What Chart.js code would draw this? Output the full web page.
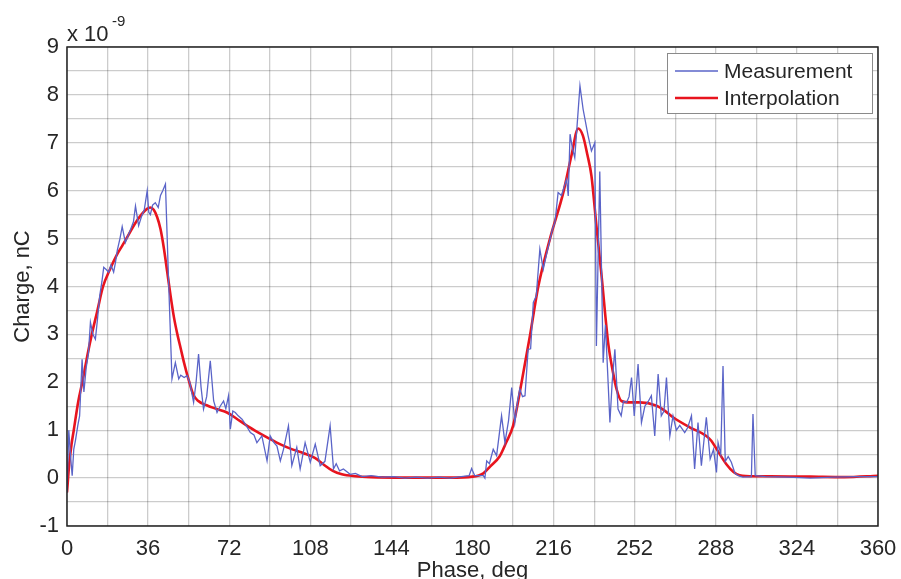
<!DOCTYPE html>
<html>
<head>
<meta charset="utf-8">
<script src="https://cdn.jsdelivr.net/npm/chart.js@4"></script>
<style>
  html, body { margin: 0; padding: 0; background: #fff; }
  #wrap { width: 901px; height: 579px; position: relative; }
</style>
</head>
<body>
<div id="wrap"><canvas id="chart"></canvas></div>
<script>
// --- data (charge in units of 1e-9 C) ---
const measPhase = [0, 0.8, 1.5, 2.3, 3.0, 3.8, 4.8, 5.6, 6.7, 7.5, 8.5, 9.5, 10.4, 11.5, 12.6, 13.5, 14.5, 15.5, 16.3, 17.5,
  18.5, 19.5, 20.7, 21.5, 22.3, 23.5, 24.5, 25.9, 27, 28.3, 29.5, 30.4, 31.8, 33, 34.3, 35.6, 36.3, 37, 38, 39.2,
  40.5, 41.5, 42.5, 43.7, 45.1, 46.6, 48.1, 49.6, 50.5, 52, 53.3, 54.5, 56.2, 57.3, 58.4, 59.5, 60.6, 62, 63.6, 65.1,
  66.6, 68, 69.5, 70.5, 71.7, 72.5, 73.6, 74.7, 76, 77.7, 79.5, 81.4, 83, 84.3, 86.5, 88.8, 90.2, 91.7, 93.2, 94.7,
  96.1, 98.3, 99.8, 102, 103.5, 105.7, 108, 110.2, 112.4, 114.5, 116.8, 118.3, 119.5, 121, 122.7, 125.7, 128, 131, 135, 140,
  145, 150, 155, 160, 165, 170, 175, 178.5, 179.6, 181, 184.8, 185.5, 186.3, 187.5, 189.2, 190.7, 192.9, 194.4, 196, 197.4,
  198.8, 200, 201, 202.2, 203.3, 204.7, 205.8, 207, 208.3, 209.9, 211.4, 213, 214.5, 215.5, 216.6, 218, 219.5, 220.8, 221.8, 222.5,
  223.3, 224.3, 225.4, 227.7, 229.1, 231.3, 232.8, 234.3, 235, 236.5, 238, 239, 240, 241, 242, 243.2, 244.6, 246, 247, 248.4,
  249.5, 250.6, 251.8, 253.5, 255, 256.5, 258, 259.4, 260.9, 262.4, 263.8, 265, 266.1, 267.6, 269, 270.5, 272, 274.2, 275.5, 277.2,
  278.6, 280.1, 281.6, 283.8, 285.5, 287, 288.3, 289, 290.2, 291.2, 292.2, 293.5, 294.9, 296.5, 298, 300, 303.8, 304.5, 305.5, 310,
  320, 330, 340, 350, 360];
const measCharge = [-0.3, 1.0, 0.5, 0.05, 0.6, 0.8, 1.1, 1.3, 2.48, 1.8, 2.3, 2.6, 3.25, 3.0, 2.9, 3.3, 3.8, 4.1, 4.4, 4.35,
  4.3, 4.45, 4.3, 4.5, 4.75, 5.0, 5.25, 4.92, 5.05, 5.2, 5.35, 5.68, 5.27, 5.45, 5.6, 6.0, 5.55, 5.5, 5.7, 5.75,
  5.65, 5.9, 6.0, 6.14, 4.1, 2.07, 2.41, 2.07, 2.15, 2.1, 2.14, 2.0, 1.58, 2.0, 2.59, 1.9, 1.44, 1.7, 2.45, 1.61,
  1.37, 1.5, 1.61, 1.45, 1.72, 1.02, 1.4, 1.37, 1.3, 1.23, 1.1, 0.95, 0.9, 0.74, 0.88, 0.36, 0.88, 0.75, 0.67, 0.36,
  0.6, 1.09, 0.26, 0.64, 0.19, 0.74, 0.33, 0.71, 0.26, 0.35, 1.09, 0.19, 0.3, 0.15, 0.19, 0.08, 0.1, 0.03, 0.05, 0.02,
  0.03, 0.0, 0.02, 0.0, 0.02, 0.0, 0.03, 0.05, 0.2, 0.05, 0.05, 0.0, 0.36, 0.3, 0.6, 0.47, 1.3, 0.74, 1.2, 1.89,
  1.16, 1.6, 1.86, 1.7, 1.72, 2.69, 2.7, 3.67, 3.8, 4.78, 4.36, 4.7, 5.0, 5.2, 5.34, 5.96, 5.9, 6.1, 6.24, 5.89,
  7.18, 6.9, 6.69, 8.19, 7.7, 7.15, 6.83, 7.0, 2.76, 6.4, 2.41, 3.2, 2.2, 1.16, 2.0, 2.69, 1.44, 1.3, 1.6, 1.58,
  1.7, 2.1, 1.3, 2.38, 1.16, 1.5, 1.6, 1.72, 0.88, 2.17, 1.3, 1.4, 2.1, 0.88, 1.3, 1.0, 1.1, 0.95, 1.05, 1.3,
  0.19, 1.16, 0.26, 1.27, 0.4, 0.6, 0.12, 0.74, 0.5, 2.34, 0.35, 0.45, 0.33, 0.1, 0.05, 0.02, 0.03, 1.34, 0.05, 0.03,
  0.02, 0.0, 0.02, 0.03, 0.03];

const fitPhase = [0, 1, 2, 3, 5, 7, 9, 11, 13.5, 16, 19, 22, 24.5, 27, 30, 33, 35.5, 37, 38.5, 40,
  41.5, 43, 44.5, 46, 47.5, 49, 50.5, 52, 54, 56, 58, 62, 66, 71, 75, 80, 85, 90, 95, 100,
  105, 110, 114, 118, 122, 128, 135, 150, 170, 180, 184.8, 188, 192, 195, 198, 201.8, 205.5, 209.2, 214.4, 220.3,
  224, 226.9, 229, 231, 232.8, 235, 237.3, 240.2, 242.4, 244, 246.1, 250, 254.3, 261.7, 265, 269, 276.4, 283.8, 286, 288.3,
  292.7, 296, 298.6, 305, 312, 330, 345, 360];
const fitCharge = [-0.3, 0.3, 0.7, 1.0, 1.6, 2.05, 2.55, 3.0, 3.5, 4.0, 4.35, 4.65, 4.85, 5.05, 5.3, 5.5, 5.62, 5.65, 5.6, 5.45,
  5.2, 4.8, 4.3, 3.8, 3.35, 3.0, 2.7, 2.4, 2.05, 1.75, 1.62, 1.52, 1.45, 1.37, 1.25, 1.09, 0.95, 0.82, 0.7, 0.6,
  0.52, 0.42, 0.28, 0.15, 0.08, 0.04, 0.02, 0.01, 0.01, 0.03, 0.1, 0.25, 0.45, 0.75, 1.09, 2.0, 2.97, 4.0, 5.0, 5.96,
  6.75, 7.3, 7.15, 6.75, 6.31, 5.27, 4.22, 2.83, 2.2, 1.85, 1.61, 1.58, 1.58, 1.51, 1.42, 1.27, 1.06, 0.88, 0.78, 0.61,
  0.29, 0.12, 0.06, 0.04, 0.04, 0.03, 0.02, 0.05];

const seriesNames = ['Measurement', 'Interpolation'];
const seriesColors = ['#5a64c8', '#e8141e'];

const FONT = '"Liberation Sans", Arial, sans-serif';
const TXT = '#262626';

const toXY = (xs, ys) => xs.map((x, i) => ({ x, y: ys[i] }));

// frame, legend box and axis titles drawn on top of the plot
const matlabDecor = {
    id: 'matlabDecor',
    afterDatasetsDraw(chart) {
        const { ctx, chartArea: a } = chart;
        ctx.save();
        ctx.strokeStyle = '#222';
        ctx.lineWidth = 1.5;
        ctx.strokeRect(a.left, a.top, a.right - a.left, a.bottom - a.top);

        // legend
        const bx = 667, by = 53, bw = 205, bh = 60;
        ctx.fillStyle = '#fff';
        ctx.fillRect(bx, by, bw, bh);
        ctx.strokeStyle = '#8a8a8a';
        ctx.lineWidth = 1;
        ctx.strokeRect(bx + 0.5, by + 0.5, bw, bh);
        const rows = [71, 98];
        seriesNames.forEach((name, i) => {
            ctx.strokeStyle = seriesColors[i];
            ctx.lineWidth = i === 0 ? 1.3 : 2.6;
            ctx.beginPath();
            ctx.moveTo(675, rows[i]);
            ctx.lineTo(718, rows[i]);
            ctx.stroke();
            ctx.fillStyle = TXT;
            ctx.font = '21px ' + FONT;
            ctx.textAlign = 'left';
            ctx.textBaseline = 'middle';
            ctx.fillText(name, 724, rows[i] + 1);
        });
        ctx.restore();
    },
    afterDraw(chart) {
        const { ctx, chartArea: a } = chart;
        ctx.save();
        ctx.fillStyle = TXT;
        ctx.font = '22px ' + FONT;
        ctx.textAlign = 'center';
        ctx.textBaseline = 'alphabetic';
        ctx.fillText('Phase, deg', (a.left + a.right) / 2, 577);

        ctx.save();
        ctx.translate(23, (a.top + a.bottom) / 2);
        ctx.rotate(-Math.PI / 2);
        ctx.textBaseline = 'middle';
        ctx.fillText('Charge, nC', 0, 0);
        ctx.restore();

        // exponent label
        ctx.textAlign = 'left';
        ctx.textBaseline = 'alphabetic';
        ctx.font = '22px ' + FONT;
        ctx.fillText('x 10', a.left, 41);
        ctx.font = '15px ' + FONT;
        ctx.fillText('-9', a.left + 45, 26);
        ctx.restore();
    }
};

new Chart(document.getElementById('chart'), {
    type: 'scatter',
    data: {
        datasets: [
            {
                label: seriesNames[0],
                data: toXY(measPhase, measCharge),
                showLine: true,
                borderColor: seriesColors[0],
                borderWidth: 1.3,
                pointRadius: 0,
                tension: 0
            },
            {
                label: seriesNames[1],
                data: toXY(fitPhase, fitCharge),
                showLine: true,
                borderColor: seriesColors[1],
                borderWidth: 2.6,
                pointRadius: 0,
                cubicInterpolationMode: 'monotone'
            }
        ]
    },
    options: {
        responsive: true,
        maintainAspectRatio: false,
        animation: false,
        layout: { padding: { top: 47, right: 23, left: 0, bottom: 0 } },
        plugins: { legend: { display: false }, tooltip: { enabled: false } },
        scales: {
            x: {
                type: 'linear', min: 0, max: 360,
                afterFit: s => { s.height = 53; s.paddingRight = 0; },
                grid: { color: 'rgba(0,0,0,0.2)', lineWidth: 1.3, drawTicks: false },
                border: { display: false },
                ticks: {
                    stepSize: 18, autoSkip: false, maxRotation: 0, padding: 10,
                    color: TXT, font: { family: FONT, size: 22 },
                    callback: v => (v % 36 === 0 ? v : '')
                }
            },
            y: {
                type: 'linear', min: -1, max: 9,
                afterFit: s => { s.width = 67; },
                grid: { color: 'rgba(0,0,0,0.2)', lineWidth: 1.3, drawTicks: false },
                border: { display: false },
                ticks: {
                    stepSize: 0.5, autoSkip: false, padding: 8,
                    color: TXT, font: { family: FONT, size: 22 },
                    callback: v => (Number.isInteger(v) ? v : '')
                }
            }
        }
    },
    plugins: [matlabDecor]
});
</script>
</body>
</html>
